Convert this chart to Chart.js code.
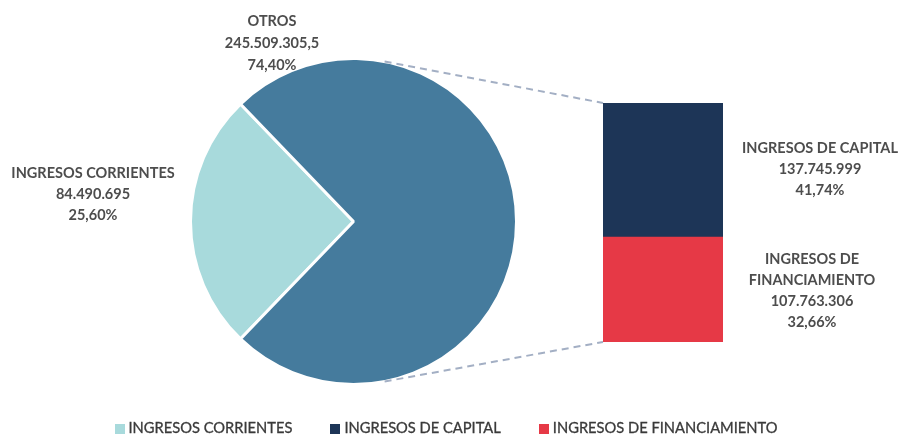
<!DOCTYPE html>
<html>
<head>
<meta charset="utf-8">
<script src="https://cdn.jsdelivr.net/npm/chart.js@4.4.1/dist/chart.umd.min.js"></script>
<style>
  body { margin: 0; background: #fff; }
  #wrap { position: relative; width: 901px; height: 436px; }
  #wrap canvas { position: absolute; left: 0; top: 0; }
  #legend { position: absolute; left: 0; top: 418px; width: 892px; display: flex; justify-content: center; gap: 38px;
            font-family: Lato, "Open Sans", sans-serif; font-size: 14.7px; color: #3a3a3a; -webkit-text-stroke: 0.3px #3a3a3a; }
  #legend span.box { display: inline-block; width: 10px; height: 10px; margin-right: 4px; vertical-align: -1px; -webkit-text-stroke: 0; }
</style>
</head>
<body>
<div id="wrap">
  <canvas id="pieChart" width="901" height="436"></canvas>
  <canvas id="barChart" width="901" height="436"></canvas>
  <div id="legend"></div>
</div>
<script>
// pie: main categories
const pieLabels = ['INGRESOS CORRIENTES', 'OTROS'];
const pieValues = [84490695, 245509305.5];
const piePercents = ['25,60%', '74,40%'];
const pieValueText = ['84.490.695', '245.509.305,5'];

// bar: breakdown of "OTROS"
const barLabels = ['INGRESOS DE CAPITAL', 'INGRESOS DE FINANCIAMIENTO'];
const barValues = [137745999, 107763306];
const barPercents = ['41,74%', '32,66%'];
const barValueText = ['137.745.999', '107.763.306'];

const legendLabels = ['INGRESOS CORRIENTES', 'INGRESOS DE CAPITAL', 'INGRESOS DE FINANCIAMIENTO'];

const colTeal = '#A8DADC';
const colBlue = '#457B9D';
const colNavy = '#1D3557';
const colRed = '#E63946';
const legendColors = [colTeal, colNavy, colRed];

const fontFam = 'Lato, "Open Sans", sans-serif';
const textCol = '#4d4d4d';

const total = pieValues[0] + pieValues[1];
// center the small slice on the left side
const rotation = 270 - (pieValues[0] / total) * 180;

const pieChart = new Chart(document.getElementById('pieChart'), {
    type: 'pie',
    data: {
        labels: pieLabels,
        datasets: [{
            data: pieValues,
            backgroundColor: [colTeal, colBlue],
            borderColor: '#ffffff',
            borderWidth: 3
        }]
    },
    options: {
        responsive: false,
        animation: false,
        rotation: rotation,
        layout: { padding: { left: 189, top: 57, right: 383, bottom: 50 } },
        plugins: { legend: { display: false }, tooltip: { enabled: false } }
    }
});

const drawLines = (ctx, lines, cx, y0, lh) => {
    lines.forEach((t, i) => ctx.fillText(t, cx, y0 + i * lh));
};

const overlayPlugin = {
    id: 'overlay',
    afterDraw(chart) {
        const ctx = chart.ctx;
        const arc = pieChart.getDatasetMeta(0).data[1];
        const cx = arc.x, cy = arc.y, r = arc.outerRadius;
        const bar = chart.getDatasetMeta(1).data[0];     // top segment (capital)
        const barBottom = chart.getDatasetMeta(0).data[0]; // bottom segment
        const bx = bar.x - bar.width / 2;
        const a = 11 * Math.PI / 180;

        ctx.save();
        ctx.strokeStyle = '#A3AFC4';
        ctx.lineWidth = 2;
        ctx.setLineDash([7, 5]);
        ctx.beginPath();
        ctx.moveTo(cx + r * Math.sin(a), cy - r * Math.cos(a));
        ctx.lineTo(bx, bar.y);
        ctx.moveTo(cx + r * Math.sin(a), cy + r * Math.cos(a));
        ctx.lineTo(bx, barBottom.base);
        ctx.stroke();
        ctx.restore();

        ctx.save();
        ctx.fillStyle = textCol;
        ctx.strokeStyle = textCol;
        ctx.lineWidth = 0.3;
        ctx.font = 'bold 14.5px ' + fontFam;
        ctx.textAlign = 'center';
        ctx.textBaseline = 'middle';
        drawLines(ctx, [pieLabels[1], pieValueText[1], piePercents[1]], 272, 21, 22);
        drawLines(ctx, [pieLabels[0], pieValueText[0], piePercents[0]], 93, 173, 21);
        drawLines(ctx, [barLabels[0], barValueText[0], barPercents[0]], 820, 148, 21);
        drawLines(ctx, ['INGRESOS DE', 'FINANCIAMIENTO', barValueText[1], barPercents[1]], 812, 259, 21);
        ctx.restore();
    }
};

new Chart(document.getElementById('barChart'), {
    type: 'bar',
    data: {
        labels: ['OTROS'],
        datasets: [
            { label: barLabels[1], data: [barValues[1]], backgroundColor: colRed },
            { label: barLabels[0], data: [barValues[0]], backgroundColor: colNavy }
        ]
    },
    options: {
        responsive: false,
        animation: false,
        layout: { padding: { left: 603, right: 178, top: 103, bottom: 94 } },
        datasets: { bar: { barPercentage: 1, categoryPercentage: 1 } },
        scales: {
            x: { stacked: true, display: false },
            y: { stacked: true, display: false, min: 0, max: barValues[0] + barValues[1] }
        },
        plugins: { legend: { display: false }, tooltip: { enabled: false } }
    },
    plugins: [overlayPlugin]
});

const legend = document.getElementById('legend');
legendLabels.forEach((t, i) => {
    const item = document.createElement('div');
    item.innerHTML = '<span class="box" style="background:' + legendColors[i] + '"></span>' + t;
    legend.appendChild(item);
});
</script>
</body>
</html>
